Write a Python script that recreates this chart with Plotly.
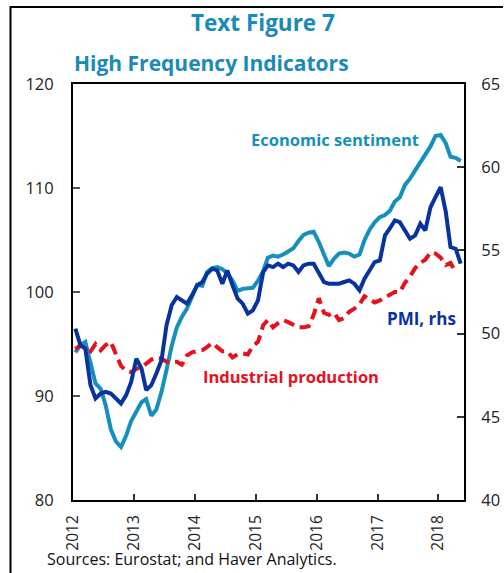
import pandas as pd
import plotly.graph_objects as go

# Monthly dates Jan 2012 - May 2018 (plotted mid-month)
dates = pd.date_range("2012-01-01", periods=77, freq="MS") + pd.Timedelta(days=14)

economic_sentiment = [
    94.2, 94.9, 95.2, 93.2, 91.2, 90.7, 89.1, 86.8, 85.6, 85.1, 86.2, 87.6,
    88.6, 89.4, 89.7, 88.1, 88.7, 90.4, 92.5, 94.8, 96.6, 97.6, 98.4, 99.5,
    100.7, 100.6, 101.9, 102.3, 102.4, 102.2, 101.8, 101.1, 100.1, 100.3, 100.4, 100.4,
    101.1, 102.0, 103.3, 103.5, 103.4, 103.6, 103.9, 104.2, 104.9, 105.5, 105.7, 105.8,
    104.8, 103.5, 102.5, 103.2, 103.7, 103.8, 103.7, 103.4, 103.6, 105.0, 106.0, 106.7,
    107.2, 107.4, 107.8, 108.7, 109.1, 110.3, 110.9, 111.7, 112.5, 113.3, 114.0, 115.0,
    115.1, 114.3, 113.0, 112.9, 112.6,
]

pmi = [
    50.3, 49.3, 49.1, 46.9, 46.1, 46.4, 46.5, 46.4, 46.1, 45.8, 46.3, 47.1,
    48.5, 47.9, 46.6, 46.9, 47.6, 48.4, 50.5, 51.7, 52.2, 52.0, 51.8, 52.3,
    52.9, 53.1, 53.6, 53.9, 53.8, 53.0, 53.8, 52.9, 52.1, 51.8, 51.2, 51.4,
    52.0, 53.7, 54.1, 54.0, 54.2, 54.0, 54.2, 54.1, 53.7, 54.1, 54.2, 54.2,
    53.6, 53.1, 53.0, 53.0, 53.0, 53.1, 53.2, 53.0, 52.6, 53.3, 53.8, 54.3,
    54.4, 55.9, 56.3, 56.8, 56.7, 56.2, 55.7, 55.9, 56.6, 56.2, 57.6, 58.2,
    58.8, 57.3, 55.2, 55.1, 54.2,
]

industrial_production = [
    94.5, 94.9, 94.6, 94.3, 95.0, 94.4, 94.9, 95.2, 94.0, 92.9, 92.4, 92.3,
    92.6, 92.8, 93.1, 93.5, 93.7, 93.6, 93.3, 93.3, 93.3, 93.0, 93.9, 94.2,
    94.3, 94.4, 94.7, 95.1, 94.7, 94.3, 94.3, 93.7, 94.0, 94.1, 94.0, 94.8,
    95.2, 96.8, 97.3, 96.6, 97.0, 97.3, 97.1, 96.8, 96.6, 96.6, 96.7, 97.8,
    99.4, 98.0, 97.8, 98.0, 97.3, 97.5, 98.1, 98.4, 98.8, 99.6, 99.3, 99.0,
    99.2, 99.5, 99.8, 100.0, 100.0, 100.9, 101.5, 102.3, 102.8, 103.1, 103.8, 103.7,
    103.3, 102.6, 102.8, 101.9,
]

left_ticks = [80, 90, 100, 110, 120]
right_ticks = [40, 45, 50, 55, 60, 65]

C_SENT = "#1590BC"
C_PMI = "#0733A0"
C_IP = "#E8101A"
C_TITLE = "#1A8AB8"
FONT = "Open Sans"

fig = go.Figure()
fig.add_trace(go.Scatter(x=dates, y=economic_sentiment, mode="lines",
                         line=dict(color=C_SENT, width=4), yaxis="y"))
fig.add_trace(go.Scatter(x=dates[:len(industrial_production)], y=industrial_production,
                         mode="lines", line=dict(color=C_IP, width=4, dash="11px,6px"),
                         yaxis="y"))
fig.add_trace(go.Scatter(x=dates, y=pmi, mode="lines",
                         line=dict(color=C_PMI, width=4), yaxis="y2"))

L, R, T, B = 73, 40, 84, 73
W, H = 504, 573
pw, ph = W - L - R, H - T - B

def px(x):
    return (x - L) / pw

def py(y):
    return (H - B - y) / ph

fig.update_layout(
    width=W, height=H, autosize=False,
    margin=dict(l=L, r=R, t=T, b=B),
    paper_bgcolor="white", plot_bgcolor="white",
    showlegend=False,
    font=dict(family=FONT, size=15, color="#222"),
    xaxis=dict(
        type="date", automargin=False,
        range=["2012-01-01", "2018-06-04"],
        tick0="2012-01-01", dtick="M12", tickformat="%Y",
        tickangle=-90,
        ticks="inside", ticklen=6, tickwidth=1.5, tickcolor="#333",
        showline=True, linecolor="black", linewidth=2, mirror=True,
        showgrid=False, zeroline=False,
        ticklabelstandoff=7,
        tickfont=dict(size=15.5, color="#222"),
    ),
    yaxis=dict(
        range=[80, 120], tickvals=left_ticks, automargin=False,
        ticks="inside", ticklen=7, tickwidth=1.5, tickcolor="#555",
        showline=True, linecolor="black", linewidth=2,
        showgrid=False, zeroline=False,
        ticklabelstandoff=14,
        tickfont=dict(size=16.5, color="#222"),
    ),
    yaxis2=dict(
        range=[40, 65], tickvals=right_ticks, automargin=False,
        overlaying="y", side="right",
        ticks="inside", ticklen=7, tickwidth=1.5, tickcolor="#333",
        showline=True, linecolor="black", linewidth=2,
        showgrid=False, zeroline=False,
        ticklabelstandoff=12,
        tickfont=dict(size=16.5, color="#222"),
    ),
)

ann = [
    dict(text="<b>Text Figure 7</b>", x=px(263), y=py(22), xanchor="center",
         yanchor="middle", font=dict(size=22.5, color=C_TITLE)),
    dict(text="<b>High Frequency Indicators</b>", x=px(72), y=py(63), xanchor="left",
         yanchor="middle", font=dict(size=21, color=C_TITLE)),
    dict(text="<b>Economic sentiment</b>", x=px(335), y=py(139), xanchor="center",
         yanchor="middle", font=dict(size=16.5, color=C_SENT)),
    dict(text="<b>PMI, rhs</b>", x=px(421), y=py(318), xanchor="center",
         yanchor="middle", font=dict(size=17, color=C_PMI)),
    dict(text="<b>Industrial production</b>", x=px(291), y=py(376), xanchor="center",
         yanchor="middle", font=dict(size=16.5, color=C_IP)),
    dict(text="Sources: Eurostat; and Haver Analytics.", x=px(45), y=py(559),
         xanchor="left", yanchor="middle", font=dict(size=16, color="#111")),
]
for a in ann:
    fig.add_annotation(xref="paper", yref="paper", showarrow=False, **a)

# outer frame lines
fig.add_shape(type="line", xref="paper", yref="paper",
              x0=px(10.5), x1=px(10.5), y0=py(H + 5), y1=py(6),
              line=dict(color="black", width=2))
fig.add_shape(type="line", xref="paper", yref="paper",
              x0=px(10.5), x1=px(503), y0=py(7), y1=py(7),
              line=dict(color="black", width=2))

fig.write_html(
    "out.html",
    config={"displayModeBar": False, "responsive": False},
    post_script=(
        "document.body.style.margin='0';document.body.style.padding='0';"
        "document.body.style.overflow='hidden';"
        "document.documentElement.style.overflow='hidden';"
    ),
)
